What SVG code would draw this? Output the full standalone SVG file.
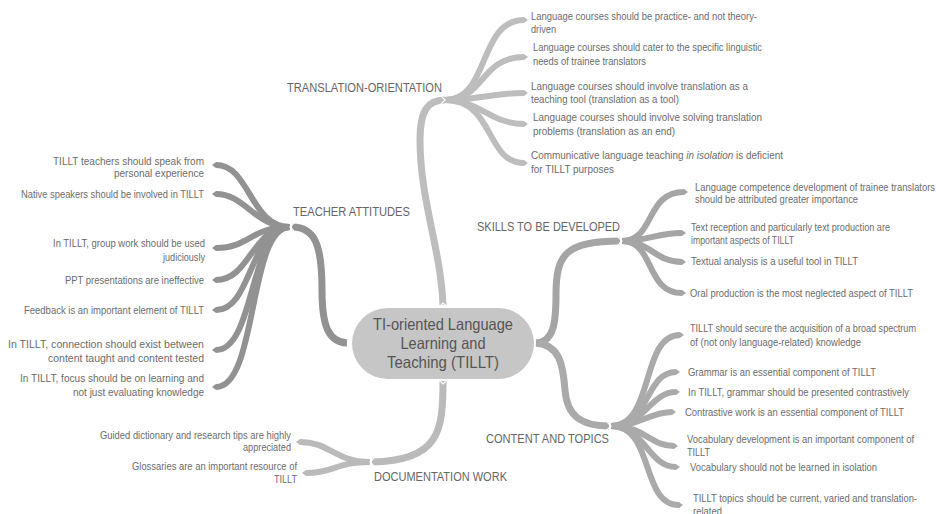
<svg xmlns="http://www.w3.org/2000/svg" width="936" height="514" viewBox="0 0 936 514">
<style>
text{font-family:"Liberation Sans Narrow","Arial Narrow","Liberation Sans",sans-serif}
.leaf{font-size:10.5px;fill:#6c6c6c}
.head{font-size:12px;fill:#666}
.center{font-size:16.5px;fill:#555;text-anchor:middle}
.c{fill:none;stroke-width:6;stroke-linecap:butt}
.m{stroke-width:7}
.tr{stroke:#bdbdbd}.te{stroke:#929292}.sk{stroke:#a5a5a5}.co{stroke:#aaaaaa}.do{stroke:#bababa}
.r{text-anchor:end}
.chev{fill:none;stroke:#fff;stroke-width:1.2}
</style>
<defs>
<marker id="mtr" markerUnits="userSpaceOnUse" markerWidth="6" markerHeight="8" refX="0" refY="4" orient="auto"><path d="M0,1 L4,4 L0,7z" fill="#bdbdbd"/></marker>
<marker id="mte" markerUnits="userSpaceOnUse" markerWidth="6" markerHeight="8" refX="0" refY="4" orient="auto"><path d="M0,1 L4,4 L0,7z" fill="#929292"/></marker>
<marker id="msk" markerUnits="userSpaceOnUse" markerWidth="6" markerHeight="8" refX="0" refY="4" orient="auto"><path d="M0,1 L4,4 L0,7z" fill="#a5a5a5"/></marker>
<marker id="mco" markerUnits="userSpaceOnUse" markerWidth="6" markerHeight="8" refX="0" refY="4" orient="auto"><path d="M0,1 L4,4 L0,7z" fill="#aaaaaa"/></marker>
<marker id="mdo" markerUnits="userSpaceOnUse" markerWidth="6" markerHeight="8" refX="0" refY="4" orient="auto"><path d="M0,1 L4,4 L0,7z" fill="#bababa"/></marker>
</defs>
<rect width="936" height="514" fill="#fff"/>
<g id="connectors">
<path class="c m tr" d="M443,305 C441,250 420,200 420,140 C420,110 428,100 445,100"/>
<path class="c m te" d="M347,343 C328,342 322,325 322,290 C322,245 315,227 292,227"/>
<path class="c m sk" d="M536,343 C553,342 556,325 556,295 C556,255 565,241 620,241"/>
<path class="c m co" d="M536,343 C560,345 563,365 565,390 C567,415 580,426 609,426"/>
<path class="c m do" d="M443,381 C443,430 440,461 372,462"/>
<g marker-end="url(#mtr)">
<path class="c tr" d="M445,100 C490,100 478,20 524,20"/>
<path class="c tr" d="M445,100 C485,100 480,57 524,57"/>
<path class="c tr" d="M445,100 C480,100 490,93 524,93"/>
<path class="c tr" d="M445,100 C480,100 490,124 524,124"/>
<path class="c tr" d="M445,100 C495,100 485,163 524,163"/>
</g>
<g marker-end="url(#mte)">
<path class="c te" d="M290,227 C250,227 250,165 216,165"/>
<path class="c te" d="M290,227 C255,227 245,194 216,194"/>
<path class="c te" d="M290,227 C250,227 250,248 216,248"/>
<path class="c te" d="M290,227 C252,227 250,280 216,280"/>
<path class="c te" d="M290,227 C250,227 252,310 216,310"/>
<path class="c te" d="M290,227 C250,227 255,350 216,350"/>
<path class="c te" d="M290,227 C248,227 258,387 216,387"/>
</g>
<g marker-end="url(#msk)">
<path class="c sk" d="M622,241 C655,241 645,192 684,192"/>
<path class="c sk" d="M622,241 C650,241 655,233 682,233"/>
<path class="c sk" d="M622,241 C650,241 655,262 682,262"/>
<path class="c sk" d="M622,241 C655,241 645,293 682,293"/>
</g>
<g marker-end="url(#mco)">
<path class="c co" d="M611,426 C655,426 640,335 680,335"/>
<path class="c co" d="M611,426 C650,426 645,372 676,372"/>
<path class="c co" d="M611,426 C645,426 650,392 676,392"/>
<path class="c co" d="M611,426 C640,426 650,412 672,412"/>
<path class="c co" d="M611,426 C645,426 650,446 674,446"/>
<path class="c co" d="M611,426 C645,426 648,467 676,467"/>
<path class="c co" d="M611,426 C655,426 640,505 679,505"/>
</g>
<g marker-end="url(#mdo)">
<path class="c do" d="M370,462 C335,462 330,442 300,442"/>
<path class="c do" d="M370,462 C335,462 335,473 306,473"/>
</g>
<polyline class="chev" points="441,96 445,100 441,104"/>
<polyline class="chev" points="294,223 290,227 294,231"/>
<polyline class="chev" points="618,237 622,241 618,245"/>
<polyline class="chev" points="607,422 611,426 607,430"/>
<polyline class="chev" points="374,458 370,462 374,466"/>
</g>
<g id="center">
<rect x="352" y="308" width="182" height="71" rx="35.5" fill="#c6c6c6"/>
<polyline class="chev" points="439,307 443,303 447,307"/>
<polyline class="chev" points="439,380 443,384 447,380"/>
<text class="center" x="443" y="330" textLength="140" lengthAdjust="spacingAndGlyphs">TI-oriented Language</text>
<text class="center" x="443" y="349" textLength="85" lengthAdjust="spacingAndGlyphs">Learning and</text>
<text class="center" x="443" y="368" textLength="112" lengthAdjust="spacingAndGlyphs">Teaching (TILLT)</text>
</g>
<g id="translation-orientation">
<text class="head" x="287" y="92" textLength="155" lengthAdjust="spacingAndGlyphs">TRANSLATION-ORIENTATION</text>
</g>
<g id="tr-1">
<text class="leaf" x="531" y="20" textLength="226" lengthAdjust="spacingAndGlyphs">Language courses should be practice- and not theory-</text>
<text class="leaf" x="531" y="33" textLength="25" lengthAdjust="spacingAndGlyphs">driven</text>
</g>
<g id="tr-2">
<text class="leaf" x="533" y="51" textLength="229" lengthAdjust="spacingAndGlyphs">Language courses should cater to the specific linguistic</text>
<text class="leaf" x="533" y="65" textLength="113" lengthAdjust="spacingAndGlyphs">needs of trainee translators</text>
</g>
<g id="tr-3">
<text class="leaf" x="531" y="90" textLength="217" lengthAdjust="spacingAndGlyphs">Language courses should involve translation as a</text>
<text class="leaf" x="531" y="103" textLength="148" lengthAdjust="spacingAndGlyphs">teaching tool (translation as a tool)</text>
</g>
<g id="tr-4">
<text class="leaf" x="533" y="121" textLength="229" lengthAdjust="spacingAndGlyphs">Language courses should involve solving translation</text>
<text class="leaf" x="533" y="135" textLength="142" lengthAdjust="spacingAndGlyphs">problems (translation as an end)</text>
</g>
<g id="tr-5">
<text class="leaf" x="531" y="159" textLength="252" lengthAdjust="spacingAndGlyphs">Communicative language teaching <tspan font-style="italic">in isolation</tspan> is deficient</text>
<text class="leaf" x="531" y="173" textLength="83" lengthAdjust="spacingAndGlyphs">for TILLT purposes</text>
</g>
<g id="teacher-attitudes">
<text class="head" x="293" y="216" textLength="117" lengthAdjust="spacingAndGlyphs">TEACHER ATTITUDES</text>
</g>
<g id="te-1">
<text class="leaf r" x="204" y="165" textLength="151" lengthAdjust="spacingAndGlyphs">TILLT teachers should speak from</text>
<text class="leaf r" x="204" y="177" textLength="90" lengthAdjust="spacingAndGlyphs">personal experience</text>
</g>
<g id="te-2"><text class="leaf r" x="204" y="198" textLength="183" lengthAdjust="spacingAndGlyphs">Native speakers should be involved in TILLT</text></g>
<g id="te-3">
<text class="leaf r" x="205" y="247" textLength="152" lengthAdjust="spacingAndGlyphs">In TILLT, group work should be used</text>
<text class="leaf r" x="205" y="261" textLength="42" lengthAdjust="spacingAndGlyphs">judiciously</text>
</g>
<g id="te-4"><text class="leaf r" x="204" y="284" textLength="139" lengthAdjust="spacingAndGlyphs">PPT presentations are ineffective</text></g>
<g id="te-5"><text class="leaf r" x="204" y="314" textLength="180" lengthAdjust="spacingAndGlyphs">Feedback is an important element of TILLT</text></g>
<g id="te-6">
<text class="leaf r" x="204" y="348" textLength="196" lengthAdjust="spacingAndGlyphs">In TILLT, connection should exist between</text>
<text class="leaf r" x="204" y="362" textLength="156" lengthAdjust="spacingAndGlyphs">content taught and content tested</text>
</g>
<g id="te-7">
<text class="leaf r" x="204" y="382" textLength="184" lengthAdjust="spacingAndGlyphs">In TILLT, focus should be on learning and</text>
<text class="leaf r" x="204" y="396" textLength="131" lengthAdjust="spacingAndGlyphs">not just evaluating knowledge</text>
</g>
<g id="skills">
<text class="head" x="477" y="231" textLength="143" lengthAdjust="spacingAndGlyphs">SKILLS TO BE DEVELOPED</text>
</g>
<g id="sk-1">
<text class="leaf" x="695" y="191" textLength="240" lengthAdjust="spacingAndGlyphs">Language competence development of trainee translators</text>
<text class="leaf" x="695" y="203" textLength="163" lengthAdjust="spacingAndGlyphs">should be attributed greater importance</text>
</g>
<g id="sk-2">
<text class="leaf" x="691" y="231" textLength="199" lengthAdjust="spacingAndGlyphs">Text reception and particularly text production are</text>
<text class="leaf" x="691" y="244" textLength="103" lengthAdjust="spacingAndGlyphs">important aspects of TILLT</text>
</g>
<g id="sk-3"><text class="leaf" x="691" y="265" textLength="167" lengthAdjust="spacingAndGlyphs">Textual analysis is a useful tool in TILLT</text></g>
<g id="sk-4"><text class="leaf" x="690" y="297" textLength="223" lengthAdjust="spacingAndGlyphs">Oral production is the most neglected aspect of TILLT</text></g>
<g id="content">
<text class="head" x="486" y="443" textLength="123" lengthAdjust="spacingAndGlyphs">CONTENT AND TOPICS</text>
</g>
<g id="co-1">
<text class="leaf" x="690" y="332" textLength="226" lengthAdjust="spacingAndGlyphs">TILLT should secure the acquisition of a broad spectrum</text>
<text class="leaf" x="690" y="346" textLength="171" lengthAdjust="spacingAndGlyphs">of (not only language-related) knowledge</text>
</g>
<g id="co-2"><text class="leaf" x="688" y="376" textLength="188" lengthAdjust="spacingAndGlyphs">Grammar is an essential component of TILLT</text></g>
<g id="co-3"><text class="leaf" x="688" y="396" textLength="221" lengthAdjust="spacingAndGlyphs">In TILLT, grammar should be presented contrastively</text></g>
<g id="co-4"><text class="leaf" x="685" y="416" textLength="219" lengthAdjust="spacingAndGlyphs">Contrastive work is an essential component of TILLT</text></g>
<g id="co-5">
<text class="leaf" x="687" y="443" textLength="227" lengthAdjust="spacingAndGlyphs">Vocabulary development is an important component of</text>
<text class="leaf" x="687" y="456" textLength="23" lengthAdjust="spacingAndGlyphs">TILLT</text>
</g>
<g id="co-6"><text class="leaf" x="690" y="471" textLength="187" lengthAdjust="spacingAndGlyphs">Vocabulary should not be learned in isolation</text></g>
<g id="co-7">
<text class="leaf" x="693" y="502" textLength="224" lengthAdjust="spacingAndGlyphs">TILLT topics should be current, varied and translation-</text>
<text class="leaf" x="693" y="515" textLength="29" lengthAdjust="spacingAndGlyphs">related</text>
</g>
<g id="documentation">
<text class="head" x="374" y="481" textLength="133" lengthAdjust="spacingAndGlyphs">DOCUMENTATION WORK</text>
</g>
<g id="do-1">
<text class="leaf r" x="291" y="439" textLength="191" lengthAdjust="spacingAndGlyphs">Guided dictionary and research tips are highly</text>
<text class="leaf r" x="291" y="451" textLength="48" lengthAdjust="spacingAndGlyphs">appreciated</text>
</g>
<g id="do-2">
<text class="leaf r" x="297" y="470" textLength="165" lengthAdjust="spacingAndGlyphs">Glossaries are an important resource of</text>
<text class="leaf r" x="297" y="483" textLength="23" lengthAdjust="spacingAndGlyphs">TILLT</text>
</g>
</svg>
